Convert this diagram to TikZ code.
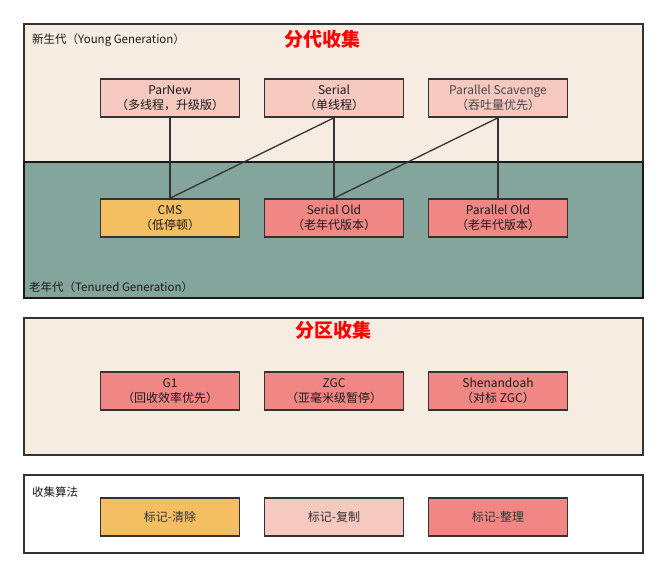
\documentclass[tikz,border=0pt]{standalone}
\usepackage{fontspec}
\setmainfont{Noto Sans CJK SC}
\begin{document}
\begin{tikzpicture}[x=1pt,y=-1pt,
  gc/.style={draw=black!80,line width=1.6pt,minimum width=139pt,minimum height=38pt,inner sep=0pt,align=center,font=\fontsize{12}{15.5}\selectfont,text=black!90},
  pinkbox/.style={gc,fill=pk},
  orangebox/.style={gc,fill=og},
  redbox/.style={gc,fill=rd},
  area/.style={draw=black!80,line width=1.6pt},
  lbl/.style={anchor=west,font=\fontsize{11.5}{13}\selectfont,text=black!90,inner sep=0pt},
  title/.style={font=\bfseries\fontsize{19}{22}\selectfont,text=red,inner sep=0pt},
  link/.style={draw=black!80,line width=1.3pt}]
\definecolor{pk}{HTML}{F5C8C0}
\definecolor{og}{HTML}{F4BE62}
\definecolor{rd}{HTML}{F08784}
\definecolor{beige}{HTML}{F6ECE2}
\definecolor{teal}{HTML}{84A59C}
\useasboundingbox (0,0) rectangle (668,578);
% areas
\path[area,fill=beige] (24,24) rectangle (643,162);
\path[draw=black!90,line width=2pt,fill=teal] (24,162) rectangle (643,298);
\path[area,fill=beige] (24,318) rectangle (643,455);
\path[area,fill=white] (24,475) rectangle (643,553);
% labels
\node[lbl] (lyoung) at (32,40) {新生代（Young Generation）};
\node[lbl] (lold) at (29,287) {老年代（Tenured Generation）};
\node[lbl] (lalg) at (32,492) {收集算法};
\node[title] (t1) at (322,39) {分代收集};
\node[title] (t2) at (333,330) {分区收集};
% young
\node[pinkbox] (parnew) at (170,98) {ParNew\\（多线程，升级版）};
\node[pinkbox] (serial) at (334,98) {Serial\\（单线程）};
\node[pinkbox,text=black!72] (ps) at (498,98) {Parallel Scavenge\\（吞吐量优先）};
% old
\node[orangebox] (cms) at (170,218) {CMS\\（低停顿）};
\node[redbox] (sold) at (334,218) {Serial Old\\（老年代版本）};
\node[redbox] (pold) at (498,218) {Parallel Old\\（老年代版本）};
% links
\draw[link] (parnew.south) -- (cms.north);
\draw[link] (serial.south) -- (cms.north);
\draw[link] (serial.south) -- (sold.north);
\draw[link] (ps.south) -- (sold.north);
\draw[link] (ps.south) -- (pold.north);
% partition
\node[redbox] (g1) at (170,391) {G1\\（回收效率优先）};
\node[redbox] (zgc) at (334,391) {ZGC\\（亚毫米级暂停）};
\node[redbox] (shen) at (498,391) {Shenandoah\\（对标 ZGC）};
% algorithms
\node[orangebox,text=black!80] (a1) at (170,517) {标记-清除};
\node[pinkbox,text=black!80] (a2) at (334,517) {标记-复制};
\node[redbox,text=black!80] (a3) at (498,517) {标记-整理};
\end{tikzpicture}
\end{document}
